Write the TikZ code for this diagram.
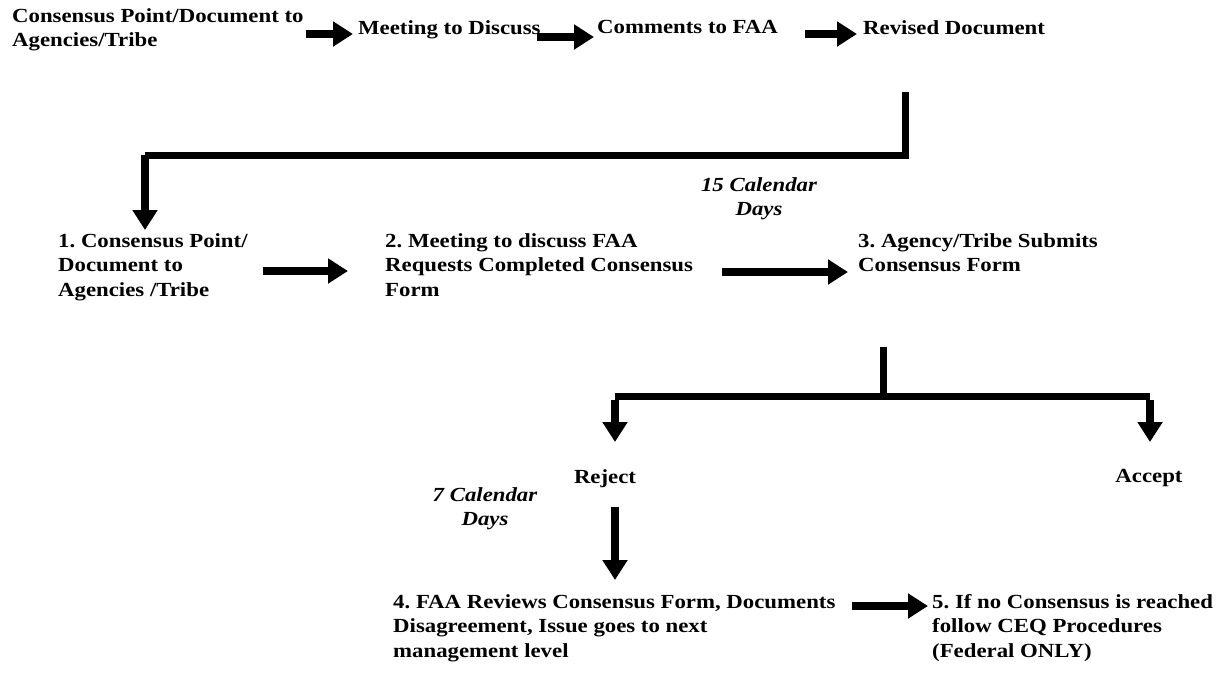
\documentclass[tikz,border=0pt]{standalone}
\usepackage{fontspec}
\setmainfont[FakeStretch=1.14]{Liberation Serif}
\usetikzlibrary{arrows.meta}
\frenchspacing
\tikzset{
  base/.style={inner sep=0pt, font=\fontsize{20}{24.5}\selectfont\bfseries},
  txt/.style={base, anchor=north west, align=left},
  ctxt/.style={base, anchor=north, align=center},
  itxt/.style={base, anchor=north, align=center, font=\fontsize{20}{24.5}\selectfont\bfseries\itshape},
  fat/.style={line width=8pt, -{Triangle[width=24pt,length=20pt]}},
  bar/.style={line width=7pt, line join=miter},
}
\begin{document}
\begin{tikzpicture}[x=1pt,y=-1pt]
\useasboundingbox (0,0) rectangle (1227,673);
% top row
\node[txt] (a1) at (12,8) {Consensus Point/Document to\\Agencies/Tribe};
\node[txt] (a2) at (358,20) {Meeting to Discuss};
\node[txt] (a3) at (597,20) {Comments to FAA};
\node[txt] (a4) at (863,20) {Revised Document};
\coordinate (s1) at (306,34);
\coordinate (s2) at (537,37);
\coordinate (s3) at (805,34);
\draw[fat] (s1) -- ([xshift=-5pt]s1 -| a2.west);
\draw[fat] (s2) -- ([xshift=-3pt]s2 -| a3.west);
\draw[fat] (s3) -- ([xshift=-6pt]s3 -| a4.west);
% second row
\node[txt] (b1) at (58,233) {1. Consensus Point/\\Document to\\Agencies /Tribe};
\node[txt] (b2) at (385,233) {2. Meeting to discuss FAA\\Requests Completed Consensus\\Form};
\node[txt] (b3) at (858,233) {3. Agency/Tribe Submits\\Consensus Form};
\node[itxt] (d15) at (759,177) {15 Calendar\\Days};
\coordinate (r1) at (905,92);
\coordinate (r2) at (905,155);
\coordinate (r3) at (145,155);
\coordinate (r4) at (145,230);
\draw[bar] (r1) -- (r2) -- (r3);
\draw[fat] (r3) -- (r4);
\coordinate (t1) at (263,271);
\coordinate (t2) at (348,271);
\coordinate (t3) at (722,272);
\coordinate (t4) at (848,272);
\draw[fat] (t1) -- (t2);
\draw[fat] (t3) -- (t4);
% branch
\coordinate (k1) at (883,347);
\coordinate (k2) at (883,396);
\coordinate (kl) at (615,396);
\coordinate (kr) at (1150,396);
\node[ctxt] (rej) at (605,469) {Reject};
\node[ctxt] (acc) at (1149,469) {Accept};
\draw[bar] (k1) -- (k2);
\draw[bar] (kl) -- (kr);
\draw[fat] ([yshift=-3.5pt]kl) -- (kl |- 0,442);
\draw[fat] ([yshift=-3.5pt]kr) -- (kr |- 0,442);
\node[itxt] (d7) at (485,487) {7 Calendar\\Days};
\node[txt] (c4) at (393,594) {4. FAA Reviews Consensus Form, Documents\\Disagreement, Issue goes to next\\management level};
\node[txt] (c5) at (932,594) {5. If no Consensus is reached\\follow CEQ Procedures\\(Federal ONLY)};
\coordinate (u1) at (615,507);
\draw[fat] (u1) -- (u1 |- 0,580);
\coordinate (v1) at (852,606);
\draw[fat] (v1) -- ([xshift=-4pt]v1 -| c5.west);
\end{tikzpicture}
\end{document}
